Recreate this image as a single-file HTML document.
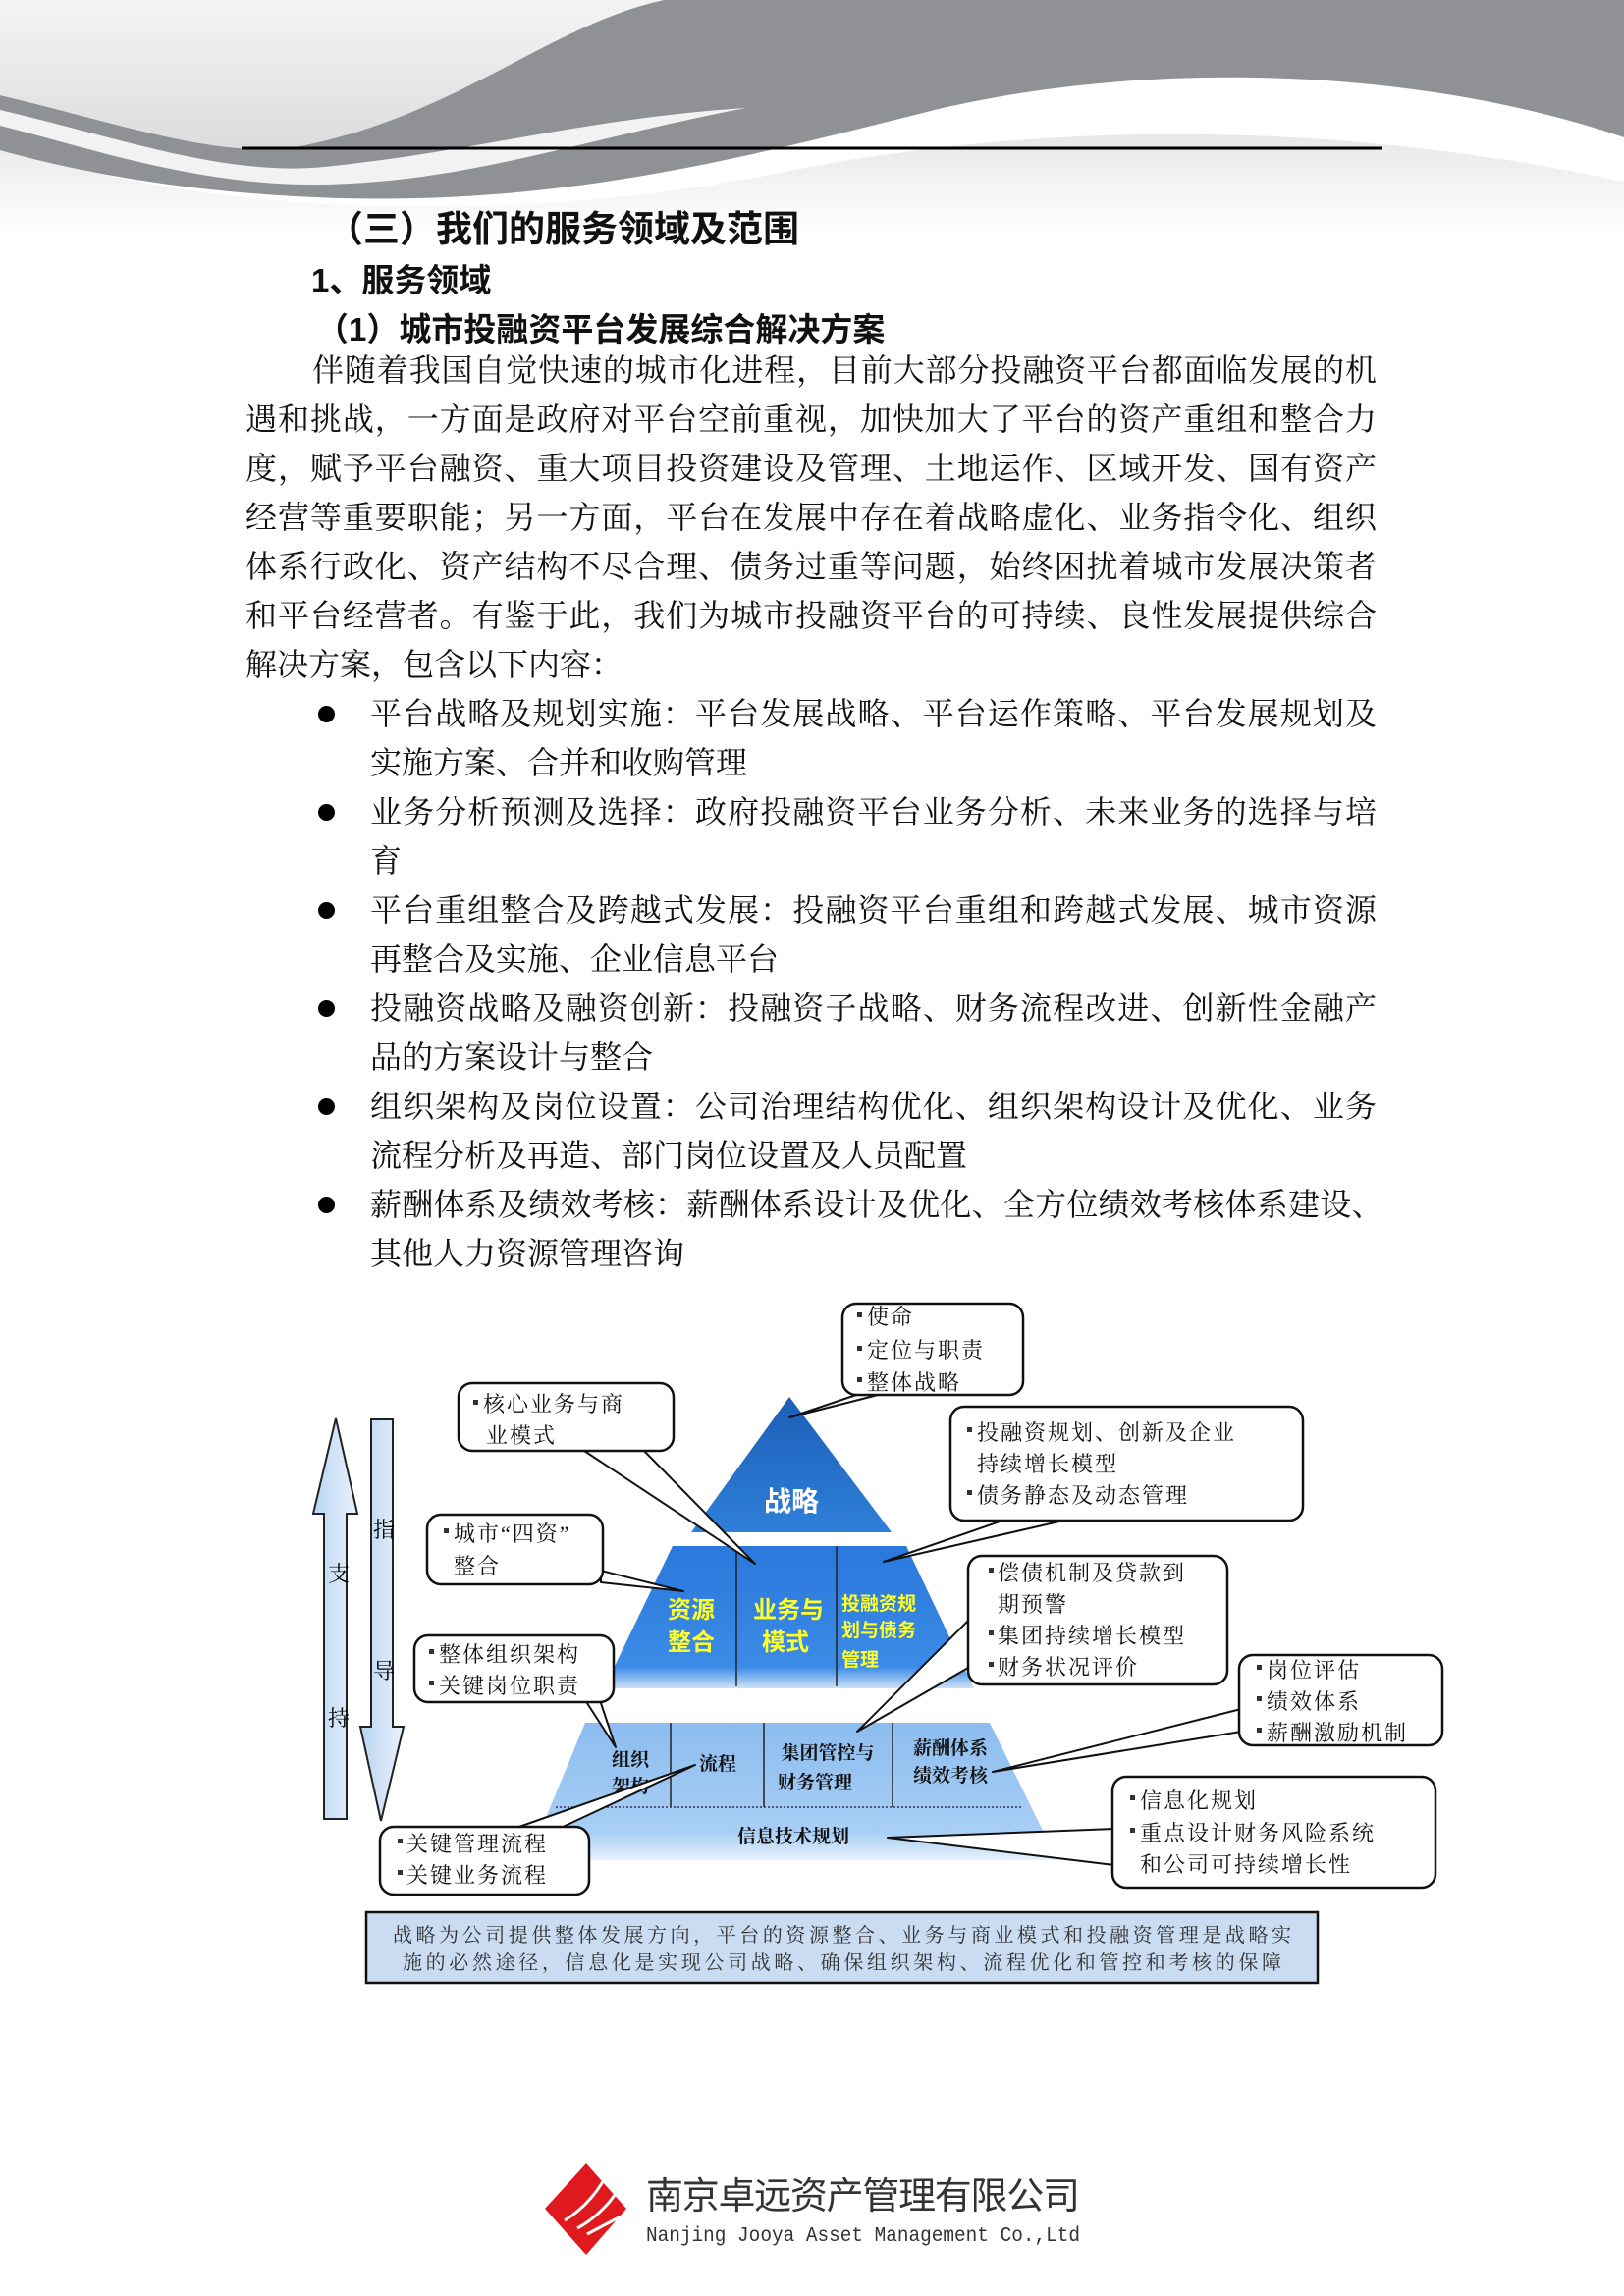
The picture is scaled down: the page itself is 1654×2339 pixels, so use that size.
<!DOCTYPE html>
<html><head><meta charset="utf-8">
<style>
html,body{margin:0;padding:0;background:#fff;}
body{width:1654px;height:2339px;position:relative;overflow:hidden;font-family:"Liberation Serif","Noto Serif CJK SC",serif;color:#111;}
.l{position:absolute;font-size:32px;line-height:40px;white-space:nowrap;}
.j{text-align:justify;text-align-last:justify;white-space:normal;letter-spacing:-1px;height:40px;overflow:visible;}
.h{position:absolute;font-family:"Liberation Sans","Noto Sans CJK SC",sans-serif;font-weight:bold;white-space:nowrap;}
.dot{position:absolute;width:17px;height:17px;border-radius:50%;background:#000;left:324px;}
</style></head><body>
<svg width="1654" height="240" style="position:absolute;left:0;top:0">
<defs>
<linearGradient id="gw" x1="0" y1="0" x2="0" y2="1"><stop offset="0" stop-color="#f4f4f5"/><stop offset="1" stop-color="#dcdcde"/></linearGradient>
<linearGradient id="gf" x1="0" y1="0" x2="0" y2="1"><stop offset="0" stop-color="#d0d0d2"/><stop offset="1" stop-color="#ffffff"/></linearGradient>
</defs>
<rect x="0" y="0" width="1654" height="240" fill="#fff"/>
<path d="M0,150 C200,215 500,235 800,175 C1000,135 1300,110 1654,185 L1654,240 L0,240Z" fill="url(#gf)" opacity="0.5"/>
<path d="M676,0 L1654,0 L1654,140 C1450,70 1180,60 960,110 C760,160 560,215 300,200 C160,192 60,170 0,153 L0,97 C120,125 230,165 310,148 C470,115 560,25 676,0Z" fill="#8f9194"/>
<path d="M0,112 C120,140 230,180 330,170 C480,155 600,120 760,110 C600,140 480,185 330,188 C200,190 90,150 0,128Z" fill="#f2f2f2"/>
<path d="M0,0 L676,0 C560,25 470,115 310,148 C230,165 120,125 0,97Z" fill="url(#gw)"/>
<line x1="246" y1="151" x2="1408" y2="151" stroke="#000" stroke-width="3"/>
</svg>

<div class="h" style="left:333px;top:203px;font-size:37px;">（三）我们的服务领域及范围</div>
<div class="h" style="left:317px;top:259px;font-size:33px;">1、服务领域</div>
<div class="h" style="left:322px;top:309px;font-size:33px;">（1）城市投融资平台发展综合解决方案</div>

<div class="l j" style="left:318px;top:357px;width:1083px;">伴随着我国自觉快速的城市化进程，目前大部分投融资平台都面临发展的机</div>
<div class="l j" style="left:250px;top:407px;width:1151px;">遇和挑战，一方面是政府对平台空前重视，加快加大了平台的资产重组和整合力</div>
<div class="l j" style="left:250px;top:457px;width:1151px;">度，赋予平台融资、重大项目投资建设及管理、土地运作、区域开发、国有资产</div>
<div class="l j" style="left:250px;top:507px;width:1151px;">经营等重要职能；另一方面，平台在发展中存在着战略虚化、业务指令化、组织</div>
<div class="l j" style="left:250px;top:557px;width:1151px;">体系行政化、资产结构不尽合理、债务过重等问题，始终困扰着城市发展决策者</div>
<div class="l j" style="left:250px;top:607px;width:1151px;">和平台经营者。有鉴于此，我们为城市投融资平台的可持续、良性发展提供综合</div>
<div class="l" style="left:250px;top:657px;">解决方案，包含以下内容：</div>

<div class="dot" style="top:719px"></div>
<div class="l j" style="left:377px;top:707px;width:1024px;">平台战略及规划实施：平台发展战略、平台运作策略、平台发展规划及</div>
<div class="l" style="left:377px;top:757px;">实施方案、合并和收购管理</div>
<div class="dot" style="top:819px"></div>
<div class="l j" style="left:377px;top:807px;width:1024px;">业务分析预测及选择：政府投融资平台业务分析、未来业务的选择与培</div>
<div class="l" style="left:377px;top:857px;">育</div>
<div class="dot" style="top:919px"></div>
<div class="l j" style="left:377px;top:907px;width:1024px;">平台重组整合及跨越式发展：投融资平台重组和跨越式发展、城市资源</div>
<div class="l" style="left:377px;top:957px;">再整合及实施、企业信息平台</div>
<div class="dot" style="top:1019px"></div>
<div class="l j" style="left:377px;top:1007px;width:1024px;">投融资战略及融资创新：投融资子战略、财务流程改进、创新性金融产</div>
<div class="l" style="left:377px;top:1057px;">品的方案设计与整合</div>
<div class="dot" style="top:1119px"></div>
<div class="l j" style="left:377px;top:1107px;width:1024px;">组织架构及岗位设置：公司治理结构优化、组织架构设计及优化、业务</div>
<div class="l" style="left:377px;top:1157px;">流程分析及再造、部门岗位设置及人员配置</div>
<div class="dot" style="top:1219px"></div>
<div class="l j" style="left:377px;top:1207px;width:1030px;letter-spacing:-1.5px;">薪酬体系及绩效考核：薪酬体系设计及优化、全方位绩效考核体系建设、</div>
<div class="l" style="left:377px;top:1257px;">其他人力资源管理咨询</div>

<svg width="1654" height="2339" style="position:absolute;left:0;top:0" font-family="Liberation Serif, Noto Serif CJK SC, serif">
<defs>
<linearGradient id="gt" x1="0" y1="0" x2="0" y2="1"><stop offset="0" stop-color="#1b5fb8"/><stop offset="1" stop-color="#2f7fd8"/></linearGradient>
<linearGradient id="gm" x1="0" y1="0" x2="0" y2="1"><stop offset="0" stop-color="#2a78dc"/><stop offset="0.85" stop-color="#3b8be6"/><stop offset="1" stop-color="#cfe2f7"/></linearGradient>
<linearGradient id="gb" x1="0" y1="0" x2="0" y2="1"><stop offset="0" stop-color="#8cbcef"/><stop offset="0.8" stop-color="#a9cff5"/><stop offset="1" stop-color="#e6f1fc"/></linearGradient>
<linearGradient id="ga" x1="0" y1="0" x2="1" y2="0"><stop offset="0" stop-color="#b9d5f2"/><stop offset="1" stop-color="#eaf2fb"/></linearGradient>
</defs>
<polygon points="342,1445 364,1542 353,1542 353,1853 330,1853 330,1542 319,1542" fill="url(#ga)" stroke="#222" stroke-width="2"/>
<polygon points="378,1446 400,1446 400,1759 411,1759 388,1855 367,1759 378,1759" fill="url(#ga)" stroke="#222" stroke-width="2"/>
<text x="345" y="1611" font-size="22" text-anchor="middle">支</text>
<text x="345" y="1758" font-size="22" text-anchor="middle">持</text>
<text x="391" y="1566" font-size="22" text-anchor="middle">指</text>
<text x="391" y="1710" font-size="22" text-anchor="middle">导</text>
<polygon points="804,1423 908,1561 704,1561" fill="url(#gt)"/>
<polygon points="685,1575 923,1575 992,1720 615,1720" fill="url(#gm)"/>
<line x1="750" y1="1575" x2="750" y2="1718" stroke="#222" stroke-width="1.5"/>
<line x1="852" y1="1575" x2="852" y2="1718" stroke="#222" stroke-width="1.5"/>
<polygon points="596,1755 1008,1755 1077,1895 538,1895" fill="url(#gb)"/>
<line x1="683" y1="1755" x2="683" y2="1841" stroke="#222" stroke-width="1.5"/>
<line x1="778" y1="1755" x2="778" y2="1841" stroke="#222" stroke-width="1.5"/>
<line x1="909" y1="1755" x2="909" y2="1841" stroke="#222" stroke-width="1.5"/>
<line x1="566" y1="1841" x2="1040" y2="1841" stroke="#335" stroke-width="1.5" stroke-dasharray="2,2"/>
<g font-family="Liberation Sans, Noto Sans CJK SC, sans-serif" font-weight="bold">
<text x="806" y="1539" font-size="28" fill="#fff" text-anchor="middle">战略</text>
<g fill="#ffff2a" font-size="24" text-anchor="middle">
<text x="704" y="1648">资源</text><text x="704" y="1681">整合</text>
<text x="803" y="1648">业务与</text><text x="800" y="1681">模式</text>
</g>
<g fill="#ffff2a" font-size="19">
<text x="857" y="1640">投融资规</text><text x="857" y="1667">划与债务</text><text x="857" y="1697">管理</text>
</g>
<g fill="#111" font-size="19" font-family="Liberation Serif, Noto Serif CJK SC, serif">
<text x="642" y="1799" text-anchor="middle">组织</text><text x="642" y="1826" text-anchor="middle">架构</text>
<text x="731" y="1803" text-anchor="middle">流程</text>
<text x="843" y="1792" text-anchor="middle">集团管控与</text><text x="830" y="1822" text-anchor="middle">财务管理</text>
<text x="968" y="1787" text-anchor="middle">薪酬体系</text><text x="968" y="1815" text-anchor="middle">绩效考核</text>
<text x="808" y="1877" text-anchor="middle">信息技术规划</text>
</g>
</g>
<g fill="#fff" stroke="#111" stroke-width="2" stroke-linejoin="round">
<polygon points="878,1419 902,1419 804,1444"/>
<polygon points="592,1476 654,1476 769,1593"/>
<polygon points="1027,1547 1092,1547 900,1591"/>
<polygon points="612,1600 612,1612 696,1621"/>
<polygon points="988,1649 993,1695 873,1764"/>
<polygon points="596,1732 611,1732 627,1780"/>
<polygon points="1264,1741 1264,1764 1011,1805"/>
<polygon points="1135,1863 1135,1900 904,1872"/>
<polygon points="523,1863 569,1863 708,1798"/>
</g>
<g fill="#fff" stroke="#111" stroke-width="2.5">
<rect x="858" y="1328" width="184" height="93" rx="14"/>
<rect x="467" y="1409" width="219" height="69" rx="14"/>
<rect x="968" y="1433" width="359" height="116" rx="14"/>
<rect x="435" y="1543" width="179" height="71" rx="14"/>
<rect x="986" y="1585" width="264" height="131" rx="14"/>
<rect x="422" y="1666" width="203" height="68" rx="14"/>
<rect x="1262" y="1686" width="207" height="92" rx="14"/>
<rect x="1133" y="1810" width="329" height="113" rx="14"/>
<rect x="387" y="1861" width="213" height="69" rx="14"/>
</g>
<g font-size="22" fill="#111" letter-spacing="2">
<g fill="#333"><rect x="873" y="1337" width="5" height="5"/><rect x="873" y="1371" width="5" height="5"/><rect x="873" y="1403" width="5" height="5"/></g>
<text x="883" y="1349">使命</text><text x="883" y="1383">定位与职责</text><text x="883" y="1416">整体战略</text>
<rect x="482" y="1426" width="5" height="5" fill="#333"/>
<text x="492" y="1438">核心业务与商</text><text x="495" y="1470">业模式</text>
<rect x="985" y="1454" width="5" height="5" fill="#333"/><rect x="985" y="1518" width="5" height="5" fill="#333"/>
<text x="995" y="1467">投融资规划、创新及企业</text><text x="995" y="1499">持续增长模型</text><text x="995" y="1531">债务静态及动态管理</text>
<rect x="452" y="1557" width="5" height="5" fill="#333"/>
<text x="462" y="1570">城市“四资”</text><text x="462" y="1603">整合</text>
<rect x="1007" y="1597" width="5" height="5" fill="#333"/><rect x="1007" y="1661" width="5" height="5" fill="#333"/><rect x="1007" y="1693" width="5" height="5" fill="#333"/>
<text x="1016" y="1610">偿债机制及贷款到</text><text x="1016" y="1642">期预警</text><text x="1016" y="1674">集团持续增长模型</text><text x="1016" y="1706">财务状况评价</text>
<rect x="437" y="1680" width="5" height="5" fill="#333"/><rect x="437" y="1712" width="5" height="5" fill="#333"/>
<text x="447" y="1693">整体组织架构</text><text x="447" y="1725">关键岗位职责</text>
<rect x="1280" y="1696" width="5" height="5" fill="#333"/><rect x="1280" y="1728" width="5" height="5" fill="#333"/><rect x="1280" y="1760" width="5" height="5" fill="#333"/>
<text x="1290" y="1709">岗位评估</text><text x="1290" y="1741">绩效体系</text><text x="1290" y="1773">薪酬激励机制</text>
<rect x="1151" y="1829" width="5" height="5" fill="#333"/><rect x="1151" y="1862" width="5" height="5" fill="#333"/>
<text x="1161" y="1842">信息化规划</text><text x="1161" y="1875">重点设计财务风险系统</text><text x="1161" y="1907">和公司可持续增长性</text>
<rect x="405" y="1873" width="5" height="5" fill="#333"/><rect x="405" y="1905" width="5" height="5" fill="#333"/>
<text x="414" y="1886">关键管理流程</text><text x="414" y="1918">关键业务流程</text>
</g>
<rect x="373" y="1948" width="969" height="72" fill="#c9dcf2" stroke="#111" stroke-width="2.5"/>
<text x="400" y="1978" font-size="20" fill="#333" textLength="915" lengthAdjust="spacing">战略为公司提供整体发展方向，平台的资源整合、业务与商业模式和投融资管理是战略实</text>
<text x="410" y="2006" font-size="20" fill="#333" textLength="895" lengthAdjust="spacing">施的必然途径，信息化是实现公司战略、确保组织架构、流程优化和管控和考核的保障</text>
<polygon points="597,2204 638,2250 597,2297 555,2250" fill="#e0191e"/>
<path d="M575,2262 C595,2250 612,2230 620,2210 M588,2270 C603,2262 618,2248 626,2236 M598,2276 L632,2258" stroke="#fff" stroke-width="3" fill="none"/>
<text x="658" y="2250" font-size="38" font-family="Liberation Sans, Noto Sans CJK SC, sans-serif" fill="#333" textLength="442" lengthAdjust="spacing">南京卓远资产管理有限公司</text>
<text x="658" y="2283" font-size="21" font-family="Liberation Mono, monospace" fill="#333" textLength="442" lengthAdjust="spacingAndGlyphs">Nanjing Jooya Asset Management Co.,Ltd</text>
</svg>
</body></html>
